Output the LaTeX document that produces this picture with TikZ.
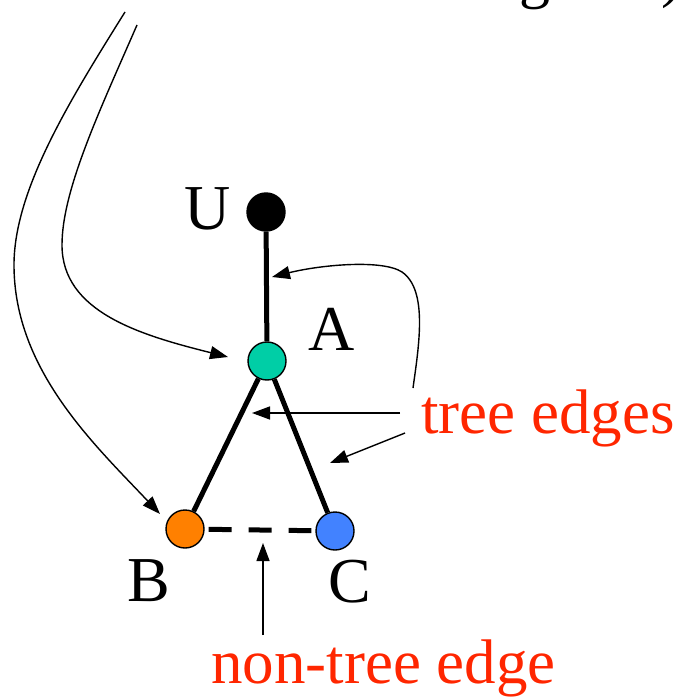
\documentclass[tikz,border=0pt]{standalone}
\usepackage{fontspec}
\setmainfont{Liberation Serif}
\usetikzlibrary{arrows.meta}
\definecolor{labelred}{RGB}{255,38,0}
\definecolor{nodeteal}{RGB}{0,206,166}
\definecolor{nodeorange}{RGB}{255,128,0}
\definecolor{nodeblue}{RGB}{66,130,255}
\tikzset{
  vertex/.style={circle, draw=black, line width=1.4pt, minimum size=38pt, inner sep=0pt},
  treeedge/.style={line width=5pt},
  backedge/.style={line width=5pt, dash pattern=on 23pt off 17pt, shorten <=4pt, shorten >=4pt},
  pointer/.style={line width=1.4pt, -{Triangle[length=18pt,width=13pt]}},
  vlabel/.style={font=\fontsize{64}{70}\selectfont, inner sep=0pt},
  redlabel/.style={font=\fontsize{63}{68}\selectfont, text=labelred, inner sep=0pt, anchor=base west},
  toptext/.style={font=\fontsize{62}{68}\selectfont, inner sep=0pt, anchor=base west}
}
\begin{document}
\begin{tikzpicture}[x=1pt, y=-1pt]
  \useasboundingbox (0,0) rectangle (681,700);
  \begin{scope}
    \clip (0,0) rectangle (681,700);
    % text continuing above the visible area
    \node[toptext] (topg) at (519,-3) {g};
    \node[toptext] (topparen) at (661,-4) {)};
  \end{scope}

  % vertices
  \node[vertex, fill=black] (U) at (266,212) {};
  \node[vertex, fill=nodeteal] (A) at (267,361) {};
  \node[vertex, fill=nodeorange] (B) at (185,529) {};
  \node[vertex, fill=nodeblue] (C) at (335,531) {};

  % vertex labels
  \node[vlabel] (lU) at (208,209) {U};
  \node[vlabel] (lA) at (332,329) {A};
  \node[vlabel] (lB) at (149,581) {B};
  \node[vlabel] (lC) at (350,582) {C};

  % tree edges and the non-tree edge
  \draw[treeedge] (U) -- (A);
  \draw[treeedge] (A) -- (B);
  \draw[treeedge] (A) -- (C);
  \draw[backedge] (B) -- (C);

  % captions
  \node[redlabel] (tree) at (421,433) {tree edges};
  \node[redlabel] (nontree) at (211,683) {non-tree edge};

  % pointer end points
  \coordinate (onUA) at (272,277);
  \coordinate (onAB) at (252,413);
  \coordinate (onAC) at (330,463);
  \coordinate (onBC) at (263,543);
  \coordinate (atA) at (228,357);
  \coordinate (atB) at (160,514);
  \coordinate (fromTop1) at (125,12);
  \coordinate (fromTop2) at (137,25);
  \coordinate (treeTail1) at (413,388);
  \coordinate (treeTail2) at (400,413);
  \coordinate (treeTail3) at (405,433);
  \coordinate (nontreeTail) at (263,635);

  % long curved pointers from above
  \draw[pointer] (fromTop1) .. controls (70,100) and (14,190) .. (14,265)
                 .. controls (14,370) and (95,445) .. (atB);
  \draw[pointer] (fromTop2) .. controls (100,110) and (62,190) .. (62,245)
                 .. controls (62,312) and (140,335) .. (atA);

  % pointers from the captions
  \draw[pointer] (treeTail1) .. controls (419,345) and (428,290) .. (402,272)
                 .. controls (382,259) and (320,265) .. (onUA);
  \draw[pointer] (treeTail2) -- (onAB);
  \draw[pointer] (treeTail3) -- (onAC);
  \draw[pointer] (nontreeTail) -- (onBC);
\end{tikzpicture}
\end{document}
